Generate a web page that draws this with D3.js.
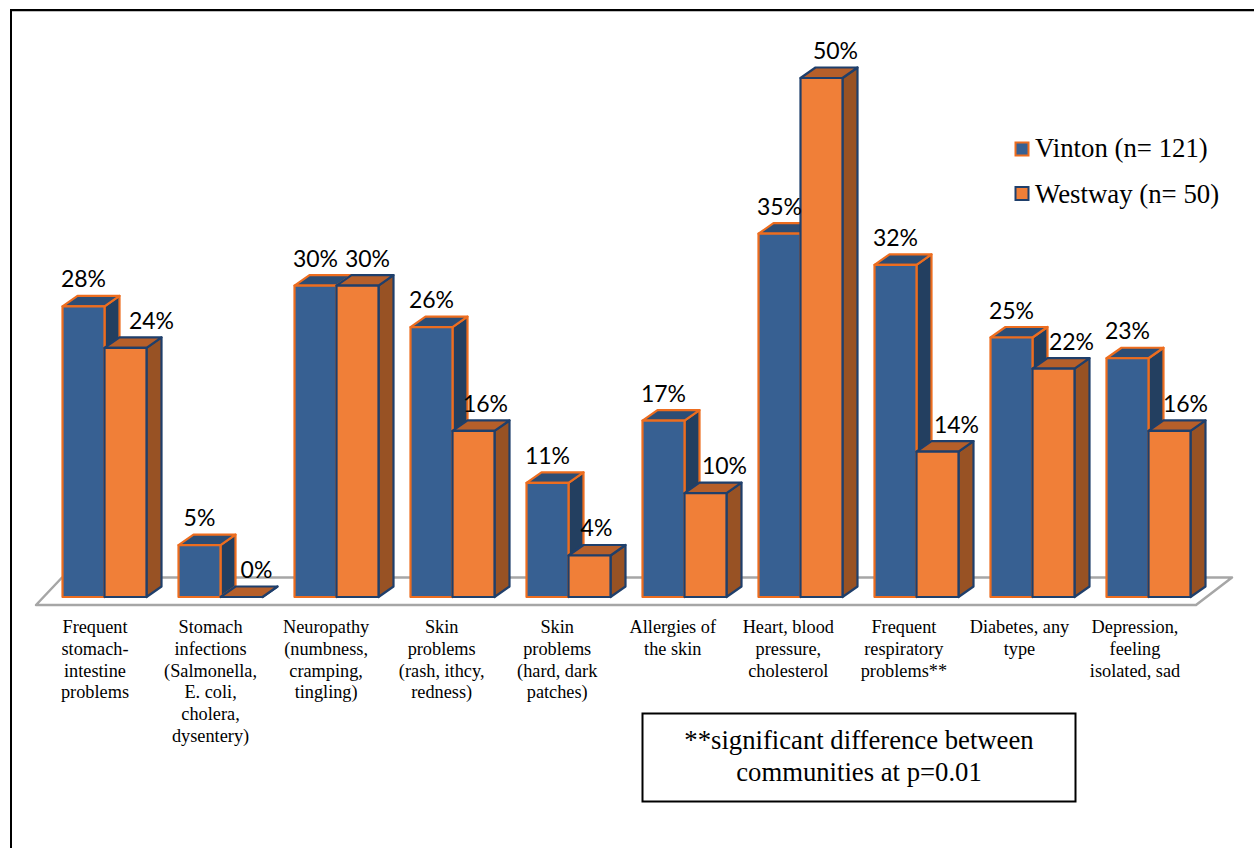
<!DOCTYPE html>
<html><head><meta charset="utf-8">
<style>html,body{margin:0;padding:0;background:#fff}svg{display:block}</style>
<script src="https://cdn.jsdelivr.net/npm/d3@7/dist/d3.min.js"></script>
</head><body><svg id="c" width="1254" height="848"></svg>
<script>
const categories = [
 ["Frequent","stomach-","intestine","problems"],
 ["Stomach","infections","(Salmonella,","E. coli,","cholera,","dysentery)"],
 ["Neuropathy","(numbness,","cramping,","tingling)"],
 ["Skin","problems","(rash, ithcy,","redness)"],
 ["Skin","problems","(hard, dark","patches)"],
 ["Allergies of","the skin"],
 ["Heart, blood","pressure,","cholesterol"],
 ["Frequent","respiratory","problems**"],
 ["Diabetes, any","type"],
 ["Depression,","feeling","isolated, sad"]
];
const vinton = [28,5,30,26,11,17,35,32,25,23];
const westway = [24,0,30,16,4,10,50,14,22,16];
const seriesNames = ["Vinton (n= 121)","Westway (n= 50)"];
const noteLines = ["**significant difference between","communities at p=0.01"];
const westLabelNudge = [26,15,10,12,7,19,14,19,18,16];

const svg = d3.select("#c");
const BLUE="#376092",ORANGE="#F07F38",BLUEE="#ED6D1F",ORANGEE="#1F3F6B";
const BLUE_TOP="#2C4D75",BLUE_SIDE="#233F60",OR_TOP="#B65F2A",OR_SIDE="#985224";
const depthX=15, depthY=10.5;

const x = d3.scaleBand().domain(d3.range(categories.length)).range([46.5,1206.5]).paddingInner(0.2759).paddingOuter(0.138);
const y = d3.scaleLinear().domain([0,50]).range([597,78]);
const labelX = d3.scaleLinear().domain([0,categories.length-1]).range([95,1135]);

// outer frame: only the top and left edges are in the picture
svg.append("path").attr("d","M12,11H1254").attr("fill","none").attr("stroke","#808080").attr("stroke-width",1);
svg.append("path").attr("d","M11,848V10H1254").attr("fill","none").attr("stroke","#000").attr("stroke-width",2);

// floor
svg.append("path").attr("d",d3.line()([[36,605],[62,577.5],[1232,577.5],[1196,605]])+"Z")
  .attr("fill","#fff").attr("stroke","#A6A6A6").attr("stroke-width",2.5).attr("stroke-linejoin","round");

const bw = x.bandwidth()/2;
function bar(g,x0,v,front,top,side,edge){
  const y0=y(0),y1=y(v),x1=x0+bw;
  const s=g.append("g").attr("stroke",edge).attr("stroke-width",2.2).attr("stroke-linejoin","round");
  s.append("path").attr("fill",side).attr("d",d3.line()([[x1,y1],[x1+depthX,y1-depthY],[x1+depthX,y0-depthY],[x1,y0]])+"Z");
  s.append("path").attr("fill",top).attr("d",d3.line()([[x0,y1],[x0+depthX,y1-depthY],[x1+depthX,y1-depthY],[x1,y1]])+"Z");
  s.append("rect").attr("x",x0).attr("y",y1).attr("width",bw).attr("height",Math.max(y0-y1,0)).attr("fill",front);
}
const g = svg.append("g");
categories.forEach((c,i)=>{
  const x0=x(i);
  bar(g,x0,vinton[i],BLUE,BLUE_TOP,BLUE_SIDE,BLUEE);
  bar(g,x0+bw,westway[i],ORANGE,OR_TOP,OR_SIDE,ORANGEE);
});
const lab = (xx,yy,t)=>svg.append("text").attr("x",xx).attr("y",yy).attr("text-anchor","middle")
  .attr("font-family","Lato,sans-serif").attr("font-size",23).attr("fill","#000").text(t);
categories.forEach((c,i)=>{
  lab(x(i)+bw/2,y(vinton[i])-depthY-8.5,vinton[i]+"%");
  lab(x(i)+bw*1.5+westLabelNudge[i],y(westway[i])-depthY-8.5,westway[i]+"%");
  const t=svg.append("text").attr("text-anchor","middle").attr("font-family","'Liberation Serif',serif")
    .attr("font-size",18.3).attr("fill","#000");
  c.forEach((l,j)=>t.append("tspan").attr("x",labelX(i)).attr("y",633+j*21.8).text(l));
});
// legend
seriesNames.forEach((n,i)=>{
  const ly=149+i*44.5;
  svg.append("rect").attr("x",1015.5).attr("y",ly-6.5).attr("width",13).attr("height",13)
    .attr("fill",i?ORANGE:BLUE).attr("stroke",i?ORANGEE:BLUEE).attr("stroke-width",2);
  svg.append("text").attr("x",1035).attr("y",ly+8+i).attr("font-family","'Liberation Serif',serif").attr("font-size",26.8).attr("fill","#000").text(n);
});
// note
svg.append("rect").attr("x",642.5).attr("y",713.5).attr("width",433).attr("height",88).attr("fill","#fff").attr("stroke","#000").attr("stroke-width",2);
noteLines.forEach((l,i)=>svg.append("text").attr("x",859).attr("y",749+i*32).attr("text-anchor","middle")
  .attr("font-family","'Liberation Serif',serif").attr("font-size",26.7).attr("fill","#000").text(l));
</script></body></html>
